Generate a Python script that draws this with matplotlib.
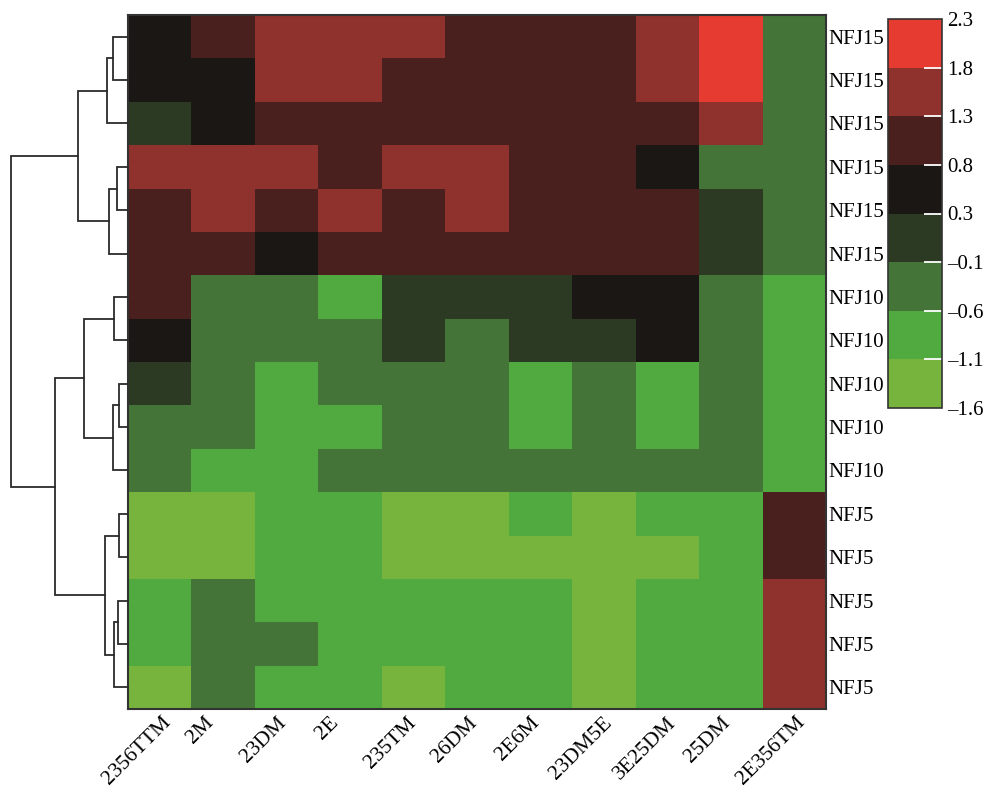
import numpy as np
import matplotlib
matplotlib.use("Agg")
from matplotlib import pyplot as plt
from matplotlib.colors import ListedColormap, BoundaryNorm

plt.rcParams['font.family'] = ['Liberation Serif', 'DejaVu Serif']

compounds = ["2356TTM", "2M", "23DM", "2E", "235TM", "26DM", "2E6M",
             "23DM5E", "3E25DM", "25DM", "2E356TM"]
samples = ["NFJ15"] * 6 + ["NFJ10"] * 5 + ["NFJ5"] * 5

# scaled content per sample (rows, top to bottom) and compound (columns)
values = np.array([
    [0.55, 1.05, 1.55, 1.55, 1.55, 1.05, 1.05, 1.05, 1.55, 2.05, -0.35],
    [0.55, 0.55, 1.55, 1.55, 1.05, 1.05, 1.05, 1.05, 1.55, 2.05, -0.35],
    [0.10, 0.55, 1.05, 1.05, 1.05, 1.05, 1.05, 1.05, 1.05, 1.55, -0.35],
    [1.55, 1.55, 1.55, 1.05, 1.55, 1.55, 1.05, 1.05, 0.55, -0.35, -0.35],
    [1.05, 1.55, 1.05, 1.55, 1.05, 1.55, 1.05, 1.05, 1.05, 0.10, -0.35],
    [1.05, 1.05, 0.55, 1.05, 1.05, 1.05, 1.05, 1.05, 1.05, 0.10, -0.35],
    [1.05, -0.35, -0.35, -0.85, 0.10, 0.10, 0.10, 0.55, 0.55, -0.35, -0.85],
    [0.55, -0.35, -0.35, -0.35, 0.10, -0.35, 0.10, 0.10, 0.55, -0.35, -0.85],
    [0.10, -0.35, -0.85, -0.35, -0.35, -0.35, -0.85, -0.35, -0.85, -0.35, -0.85],
    [-0.35, -0.35, -0.85, -0.85, -0.35, -0.35, -0.85, -0.35, -0.85, -0.35, -0.85],
    [-0.35, -0.85, -0.85, -0.35, -0.35, -0.35, -0.35, -0.35, -0.35, -0.35, -0.85],
    [-1.35, -1.35, -0.85, -0.85, -1.35, -1.35, -0.85, -1.35, -0.85, -0.85, 1.05],
    [-1.35, -1.35, -0.85, -0.85, -1.35, -1.35, -1.35, -1.35, -1.35, -0.85, 1.05],
    [-0.85, -0.35, -0.85, -0.85, -0.85, -0.85, -0.85, -1.35, -0.85, -0.85, 1.55],
    [-0.85, -0.35, -0.35, -0.85, -0.85, -0.85, -0.85, -1.35, -0.85, -0.85, 1.55],
    [-1.35, -0.35, -0.85, -0.85, -1.35, -0.85, -0.85, -1.35, -0.85, -0.85, 1.55],
])

levels = [-1.6, -1.1, -0.6, -0.1, 0.3, 0.8, 1.3, 1.8, 2.3]
colors = ["#77B43E", "#50AA40", "#447438", "#2D3A23",
          "#1B1714", "#4A201E", "#8F312C", "#E53B30"]

# row clustering: (left, right, height), leaves 0..15, new nodes from 16
merges = [
    (0, 1, 15), (16, 2, 21), (3, 4, 11), (18, 5, 19), (17, 19, 50),
    (6, 7, 14), (8, 9, 9), (22, 10, 15), (21, 23, 44),
    (11, 12, 9), (13, 14, 10), (26, 15, 14), (25, 27, 23),
    (24, 28, 73), (20, 29, 117),
]

W, H = 989, 792
fig = plt.figure(figsize=(W / 100, H / 100), dpi=100)

def px_axes(x0, y0, x1, y1):
    return fig.add_axes([x0 / W, 1 - y1 / H, (x1 - x0) / W, (y1 - y0) / H])

ax = px_axes(128, 15, 826, 709)
ax_d = px_axes(0, 15, 128, 709)
cax = px_axes(888, 19, 942, 408)

cmap = ListedColormap(colors)
norm = BoundaryNorm(levels, cmap.N)
mesh = ax.pcolormesh(values, cmap=cmap, norm=norm)
ax.set_xlim(0, len(compounds))
ax.set_ylim(len(samples), 0)

# labels sit a bit left of the column centres
ax.set_xticks(np.arange(len(compounds)) + 0.5 - 0.36)
ax.set_xticklabels(compounds, rotation=45, ha='center', va='top', fontsize=15.5)
ax.set_yticks(np.arange(len(samples)) + 0.5)
ax.set_yticklabels(samples, fontsize=15)
ax.yaxis.tick_right()
ax.tick_params(axis='both', length=0)
ax.tick_params(axis='x', pad=3)
ax.tick_params(axis='y', pad=2)
for sp in ax.spines.values():
    sp.set_color('#333333')
    sp.set_linewidth(1.5)

# dendrogram, leaves on the right
ypos = {i: i + 0.5 for i in range(len(samples))}
hpos = {i: 0.0 for i in range(len(samples))}
node = len(samples)
for a, b, h in merges:
    ax_d.plot([hpos[a], h, h, hpos[b]], [ypos[a], ypos[a], ypos[b], ypos[b]],
              color='#2b2b2b', lw=1.3, clip_on=False, solid_joinstyle='miter')
    ypos[node] = (ypos[a] + ypos[b]) / 2
    hpos[node] = h
    node += 1
ax_d.set_xlim(128, 0)
ax_d.set_ylim(len(samples), 0)
ax_d.axis('off')

cb = fig.colorbar(mesh, cax=cax, ticks=levels)
cb.ax.set_yticklabels([("%.1f" % v).replace("-", "\u2013") for v in levels])
cb.ax.tick_params(direction='in', length=13, width=1.3, color='white',
                  labelsize=15, pad=4)
cb.outline.set_edgecolor('#333333')
cb.outline.set_linewidth(1.2)
ticks = cb.ax.yaxis.get_major_ticks()
for t in (ticks[0], ticks[-1]):
    t.tick1line.set_visible(False)
    t.tick2line.set_visible(False)

fig.savefig("out.png", dpi=100)
